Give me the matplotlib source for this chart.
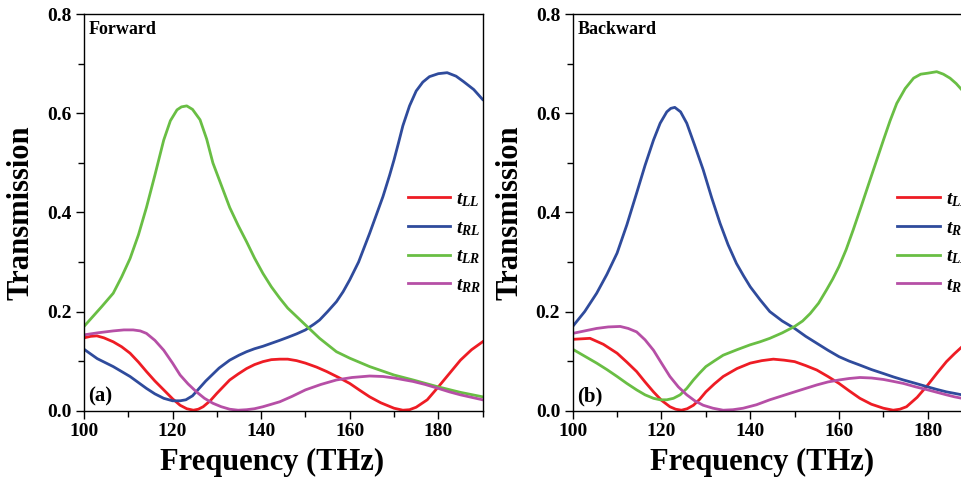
import matplotlib
matplotlib.use("Agg")
import matplotlib.pyplot as plt
from matplotlib.ticker import MultipleLocator, FormatStrFormatter

RED = "#ee1c24"
BLUE = "#2f4b9c"
GREEN = "#69be44"
MAGENTA = "#b64fa6"

# Forward (a)
fw_ll_f = [100, 101.5, 102.9, 104.5, 106.6, 108.5, 110.4, 112.3, 114.1, 116, 118, 120, 121.7, 123.2,
           124.7, 125.8, 126.9, 128.5, 130, 131.5, 132.9, 134.8, 136.7, 138.5, 140.4, 142.3, 144.2,
           146, 148, 150, 152.5, 154.8, 157.5, 160, 162.3, 164.5, 167, 170, 172, 173.5, 175, 177.5,
           180, 182.5, 185, 187.5, 190]
fw_ll = [0.147, 0.150, 0.151, 0.147, 0.139, 0.129, 0.116, 0.098, 0.079, 0.060, 0.042, 0.024, 0.011, 0.004,
         0.001, 0.003, 0.008, 0.020, 0.035, 0.049, 0.062, 0.074, 0.085, 0.093, 0.099, 0.103, 0.104,
         0.104, 0.101, 0.096, 0.088, 0.079, 0.067, 0.055, 0.041, 0.028, 0.016, 0.005, 0.001, 0.002, 0.007, 0.022,
         0.048, 0.075, 0.102, 0.123, 0.139]

fw_rl_f = [100, 103, 106.6, 110.4, 114.1, 116, 118, 120, 121.7, 123, 124.5, 126, 127.5, 129, 130.5,
           132.9, 135, 136.7, 138.5, 140.4, 142.3, 144.2, 146, 148, 150, 152, 153.2, 155, 157, 158.5,
           160, 162, 164.5, 166, 167.5, 169, 170, 171, 172, 173.5, 175, 176.5, 178, 180, 182, 184,
           185.7, 188, 190]
fw_rl = [0.124, 0.105, 0.089, 0.069, 0.045, 0.034, 0.025, 0.020, 0.020, 0.022, 0.030, 0.045, 0.060, 0.073, 0.086,
         0.102, 0.112, 0.119, 0.125, 0.130, 0.136, 0.142, 0.148, 0.155, 0.163, 0.175, 0.183, 0.200, 0.220, 0.240,
         0.264, 0.300, 0.358, 0.395, 0.432, 0.475, 0.506, 0.540, 0.575, 0.615, 0.645, 0.663, 0.674, 0.680, 0.682, 0.675,
         0.664, 0.648, 0.628]

fw_lr_f = [100, 102, 104, 106.6, 108.5, 110.4, 112.3, 114.1, 116, 118, 119.5, 121, 122, 123.2, 124.5,
           126.2, 127.7, 129.1, 131, 132.9, 134.8, 136.7, 138.5, 140.4, 142.3, 144.2, 146, 148, 150,
           153.2, 157, 160, 164.5, 170, 174.3, 180, 185, 190]
fw_lr = [0.170, 0.190, 0.210, 0.237, 0.270, 0.307, 0.355, 0.410, 0.475, 0.546, 0.585, 0.607, 0.613, 0.615, 0.608,
         0.587, 0.548, 0.500, 0.455, 0.410, 0.374, 0.341, 0.308, 0.277, 0.250, 0.227, 0.207, 0.190, 0.173,
         0.146, 0.119, 0.106, 0.089, 0.072, 0.062, 0.048, 0.037, 0.028]

fw_rr_f = [100, 103, 106.6, 109, 111.1, 112.7, 114.1, 116, 118, 120, 121.7, 123.5, 125.4, 127.2, 129.1,
           131, 132.9, 134.8, 136.7, 138.5, 140.4, 142.3, 144.2, 147, 150, 153.5, 157, 160.5, 164.5,
           167.5, 170, 174.3, 177, 180, 182.5, 185, 187.5, 190]
fw_rr = [0.153, 0.157, 0.161, 0.163, 0.163, 0.161, 0.156, 0.142, 0.122, 0.096, 0.072, 0.054, 0.038, 0.025, 0.015,
         0.008, 0.003, 0.001, 0.002, 0.004, 0.008, 0.013, 0.018, 0.029, 0.042, 0.053, 0.062, 0.067, 0.070,
         0.069, 0.066, 0.059, 0.053, 0.045, 0.038, 0.032, 0.027, 0.022]

# Backward (b)
bw_ll_f = [100, 103.9, 106.9, 110, 112.2, 114.4, 116.3, 118.2, 120, 121.9, 123.2, 124.5, 125.8, 127.2,
           128.6, 130, 131.9, 133.9, 137, 140, 142.6, 145.2, 147.6, 150, 152.5, 155, 157.5, 160, 162.3,
           164.7, 167.3, 170, 172.2, 173.7, 175.2, 177.6, 180, 182.1, 184.2, 186, 187.7, 190]
bw_ll = [0.144, 0.146, 0.134, 0.116, 0.098, 0.079, 0.058, 0.038, 0.021, 0.008, 0.003, 0.001, 0.004, 0.011,
         0.023, 0.038, 0.054, 0.069, 0.085, 0.096, 0.101, 0.104, 0.102, 0.099, 0.091, 0.082, 0.069, 0.055, 0.040,
         0.025, 0.013, 0.005, 0.001, 0.003, 0.008, 0.027, 0.052, 0.076, 0.099, 0.115, 0.129, 0.145]

bw_rl_f = [100, 102.7, 105.4, 107.7, 110, 112.2, 114.4, 116.3, 118.2, 119.7, 121.2, 122.1, 123, 124.3,
           125.7, 127.5, 129.4, 131.3, 133.2, 135, 136.9, 138.5, 140, 142.2, 144.4, 147.2, 150, 152.5,
           155, 157.5, 160, 162.3, 164.7, 167.3, 170, 172.3, 174.5, 177.3, 180, 182, 184.2, 186, 187.7, 190]
bw_rl = [0.170, 0.200, 0.237, 0.275, 0.318, 0.375, 0.439, 0.495, 0.546, 0.580, 0.603, 0.610, 0.612, 0.603,
         0.580, 0.535, 0.486, 0.430, 0.378, 0.335, 0.297, 0.272, 0.250, 0.224, 0.200, 0.181, 0.166, 0.150,
         0.136, 0.122, 0.109, 0.100, 0.092, 0.083, 0.075, 0.068, 0.062, 0.055, 0.048, 0.043, 0.038, 0.035, 0.032, 0.028]

bw_lr_f = [100, 102.7, 105.4, 107.7, 110, 112.2, 114.4, 116.3, 118.2, 119.7, 121.2, 122.7, 124.2, 125.7,
           127.2, 128.6, 130, 132, 133.9, 137, 140, 142.2, 144.4, 147.2, 150, 151.8, 153.5, 155.4, 157.2,
           158.6, 160, 161.6, 163.2, 165.1, 167, 168.5, 170, 171.5, 173, 174.9, 176.8, 178.4, 180, 182,
           183.5, 185, 186.4, 187.7, 190]
bw_lr = [0.124, 0.110, 0.096, 0.083, 0.069, 0.055, 0.042, 0.032, 0.025, 0.022, 0.022, 0.025, 0.032, 0.045,
         0.062, 0.076, 0.089, 0.101, 0.112, 0.123, 0.133, 0.139, 0.146, 0.157, 0.170, 0.181, 0.196, 0.217, 0.244,
         0.266, 0.291, 0.325, 0.365, 0.415, 0.466, 0.506, 0.546, 0.585, 0.620, 0.650, 0.671, 0.679, 0.681, 0.684,
         0.679, 0.671, 0.660, 0.647, 0.625]

bw_rr_f = [100, 102.7, 105.4, 108, 110.7, 112.5, 114.4, 116.3, 118.2, 120, 121.9, 123.8, 125.7, 127.5,
           129.4, 131.6, 133.9, 136.1, 138.4, 141.4, 144.4, 147.2, 150, 152.5, 155, 157.5, 160, 162.3,
           164.7, 167.3, 170, 172.3, 174.5, 177.3, 180, 182.1, 184.2, 186, 187.7, 190]
bw_rr = [0.156, 0.161, 0.166, 0.169, 0.170, 0.166, 0.159, 0.143, 0.122, 0.096, 0.069, 0.048, 0.032, 0.020,
         0.011, 0.005, 0.001, 0.002, 0.005, 0.012, 0.022, 0.030, 0.038, 0.045, 0.052, 0.058, 0.062, 0.065,
         0.067, 0.066, 0.063, 0.059, 0.055, 0.048, 0.042, 0.037, 0.032, 0.028, 0.025, 0.020]

plt.rcParams["font.family"] = ["Liberation Serif", "DejaVu Serif"]
plt.rcParams["font.weight"] = "bold"
plt.rcParams["mathtext.fontset"] = "custom"
plt.rcParams["mathtext.it"] = "Liberation Serif:italic:bold"
plt.rcParams["mathtext.rm"] = "Liberation Serif:bold"
plt.rcParams["mathtext.bf"] = "Liberation Serif:bold"

fig = plt.figure(figsize=(9.62, 4.82), dpi=100)
ax_a = fig.add_axes([84 / 962, 71.3 / 482, 398.6 / 962, 396.5 / 482])
ax_b = fig.add_axes([572.7 / 962, 71.3 / 482, 399.5 / 962, 396.5 / 482])

panels = [
    (ax_a, "Forward", "(a)", [(fw_ll_f, fw_ll), (fw_rl_f, fw_rl), (fw_lr_f, fw_lr), (fw_rr_f, fw_rr)]),
    (ax_b, "Backward", "(b)", [(bw_ll_f, bw_ll), (bw_rl_f, bw_rl), (bw_lr_f, bw_lr), (bw_rr_f, bw_rr)]),
]
labels = [r"$t_{LL}$", r"$t_{RL}$", r"$t_{LR}$", r"$t_{RR}$"]
colors = [RED, BLUE, GREEN, MAGENTA]

for ax, title, tag, series in panels:
    for (f, t), lab, c in zip(series, labels, colors):
        ax.plot(f, t, color=c, lw=2.0, label=lab, solid_joinstyle="round")
    ax.set_xlim(100, 190)
    ax.set_ylim(0, 0.8)
    ax.xaxis.set_major_locator(MultipleLocator(20))
    ax.xaxis.set_minor_locator(MultipleLocator(10))
    ax.yaxis.set_major_locator(MultipleLocator(0.2))
    ax.yaxis.set_minor_locator(MultipleLocator(0.1))
    ax.yaxis.set_major_formatter(FormatStrFormatter("%.1f"))
    ax.tick_params(which="both", direction="out", top=False, right=False, labelsize=14, width=1)
    ax.tick_params(which="major", length=6, pad=3)
    ax.tick_params(which="minor", length=4)
    for sp in ax.spines.values():
        sp.set_linewidth(1)
    ax.set_xlabel("Frequency (THz)", fontsize=22, fontweight="bold")
    ax.xaxis.set_label_coords(0.473, -0.095)
    ax.set_ylabel("Transmission", fontsize=22, fontweight="bold", labelpad=8)
    ax.text(0.012, 0.983, title, transform=ax.transAxes, fontsize=13, fontweight="bold",
            va="top", ha="left")
    ax.text(0.01, 0.035, tag, transform=ax.transAxes, fontsize=15, fontweight="bold",
            va="center", ha="left")
    ax.legend(loc="upper left", bbox_to_anchor=(0.812, 0.555), frameon=False, fontsize=14,
              handlelength=2.2, handletextpad=0.3, labelspacing=0.53, borderpad=0, borderaxespad=0)

fig.savefig("out.png", dpi=100)
